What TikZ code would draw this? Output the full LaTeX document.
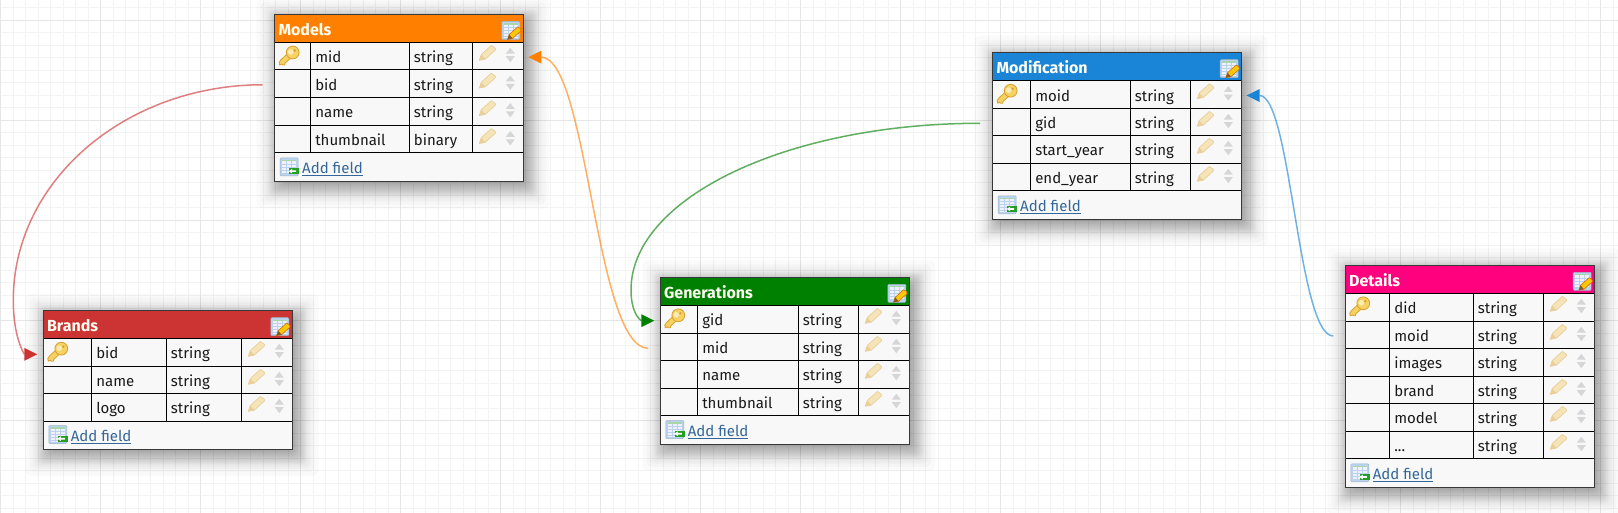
\documentclass[tikz,border=0pt]{standalone}
\usepackage{fontspec}
\setmainfont{Fira Sans}
\usetikzlibrary{shapes.geometric}
\definecolor{cRed}{HTML}{CC3333}
\definecolor{cOrange}{HTML}{FF8000}
\definecolor{cGreen}{HTML}{008000}
\definecolor{cBlue}{HTML}{1A85D6}
\definecolor{cPink}{HTML}{FF007F}
\definecolor{gridMinor}{HTML}{F3F3F3}
\definecolor{gridMajor}{HTML}{E6E6E6}
\definecolor{bodyFill}{HTML}{F8F8F8}
\definecolor{linkBlue}{HTML}{336699}
\definecolor{keyFill}{HTML}{F6D263}
\definecolor{keyLine}{HTML}{D9A02E}
\definecolor{penFill}{HTML}{F5E4B8}
\definecolor{penLine}{HTML}{EBCF9A}
\definecolor{sortGrey}{HTML}{D6D6D6}
\definecolor{iconBlue}{HTML}{B9D3EE}
\newcommand{\threedots}{...}
\tikzset{
  fieldtext/.style={anchor=base west,inner sep=0pt,font=\fontsize{15}{18}\selectfont,text=black!90},
  titletext/.style={anchor=base west,inner sep=0pt,font=\fontsize{16}{18}\selectfont\bfseries,text=white!95!yellow},
  linktext/.style={anchor=base west,inner sep=0pt,font=\fontsize{15}{18}\selectfont,text=linkBlue},
  areabox/.style={anchor=north west,inner sep=0pt,outer sep=0pt,minimum width={#1}},
  conn/.style={line width=1.5pt,opacity=.62},
  headtip/.style={isosceles triangle,isosceles triangle stretches,inner sep=0pt,outer sep=0pt,minimum width=13pt,minimum height=13pt,fill=#1},
  rule/.style={black,line width=1pt},
  frame/.style={draw=black!78,line width=1pt}
}
\newcommand{\keyicon}[2]{\begin{scope}[shift={(#1,#2)}]
  \filldraw[fill=keyFill,draw=keyLine,line width=.8pt,line join=round] (0,-4)--(4,0)--(-4,7)--(-4.5,9)--(-6.5,9)--(-7.5,8)--(-9.5,9)--(-10,6.5)--(-8.5,4)--cycle;
  \filldraw[fill=keyFill,draw=keyLine,line width=.8pt] (3.5,-3.5) circle (6.4);
  \fill[white!55!keyFill] (1.5,-4) circle (2.8);
  \fill[keyLine] (5.5,-5.5) circle (1.3);
\end{scope}}
\newcommand{\penshape}{(-8,7)--(-6,1.2)--(4,-7.8) to[out=-40,in=50] (8,-3.2)--(-2,5.8)--cycle}
\newcommand{\penicon}[2]{\begin{scope}[shift={(#1,#2)}]
  \filldraw[fill=penFill,draw=penLine,line width=.7pt,line join=round] \penshape;
  \fill[penLine] (-8,7)--(-6,1.2)--(-2,5.8)--cycle;
\end{scope}}
\newcommand{\sorticon}[2]{\begin{scope}[shift={(#1,#2)}]
  \fill[sortGrey] (-4.5,-1.2)--(4.5,-1.2)--(0,-7)--cycle;
  \fill[sortGrey] (-4.5,1.4)--(4.5,1.4)--(0,7.4)--cycle;
\end{scope}}
\newcommand{\sheet}{
  \filldraw[fill=iconBlue,draw=iconBlue!85!black,line width=.5pt,rounded corners=1pt] (-9,-9) rectangle (9,9);
  \fill[blue!6!white] (-7.2,-6) rectangle (7.2,7.2);
  \fill[green!35!gray!50] (-7.2,-7.2) rectangle (7.2,-5.8);
  \foreach \gy in {-3,0,3,6}{\draw[iconBlue,line width=.6pt] (-7.2,\gy)--(7.2,\gy);}
  \foreach \gx in {-3,2}{\draw[iconBlue,line width=.6pt] (\gx,-5.8)--(\gx,7.2);}
}
\newcommand{\editicon}[2]{\begin{scope}[shift={(#1,#2)}]
  \sheet
  \begin{scope}[shift={(3.5,3)},scale=.85]
    \filldraw[fill=yellow!60!orange,draw=orange!85!black,line width=.6pt] \penshape;
    \fill[brown!70!black] (-8,7)--(-6,1.2)--(-2,5.8)--cycle;
  \end{scope}
\end{scope}}
\newcommand{\addicon}[2]{\begin{scope}[shift={(#1,#2)}]
  \sheet
  \fill[green!55!black!85] (0,1.5) rectangle (10,7);
  \fill[white] (-0.5,4.2)--(3,1.8)--(3,3.4)--(7,3.4)--(7,5)--(3,5)--(3,6.6)--cycle;
\end{scope}}
% #1 id, #2 colour, #3 title, #4 x0/y0/x1/yh/yb/c1/c2/c3, #5 ytop/ybot/name/type rows
\newcommand{\dbtable}[5]{%
  \foreach \xa/\ya/\xb/\yh/\yb/\ca/\cb/\cc in {#4}{
    \foreach \r in {-8,-5,-3,-2,-1,0,1,2,3,4,5,6,7,8,9,10,11,13,15,18,22}{
      \fill[black,opacity=.021,rounded corners=6pt] (\xa+4-\r,\ya+5-\r) rectangle (\xb+4+\r,\yb+5+\r);
    }
    \node[areabox={(\xb-\xa)*1pt},minimum height={(\yb-\ya)*1pt},fill=bodyFill] (#1) at (\xa,\ya) {};
    \node[areabox={(\xb-\xa)*1pt},minimum height={(\yh-\ya)*1pt},fill=#2] (#1-head) at (\xa,\ya) {};
    \node[titletext] (#1-title) at (\xa+3.6,\ya+21) {#3};
    \editicon{\xb-12.5}{\ya+16}
    \foreach \ra/\rb/\rn/\rt [count=\i] in {#5}{
      \node[areabox={(\xb-\xa)*1pt},minimum height={(\rb-\ra)*1pt}] (#1-r\i) at (\xa,\ra) {};
      \node[fieldtext] (#1-name\i) at (\ca+4.8,\ra+20.4) {\rn};
      \node[fieldtext] (#1-type\i) at (\cb+4.4,\ra+20.4) {\rt};
      \draw[rule] (\xa,\rb)--(\xb,\rb);
      \penicon{\cc+15}{\ra+11}
      \sorticon{\cc+38}{\ra+12.5}
    }
    \keyicon{\xa+14.5}{\ya+41.5}
    \draw[rule] (\xa,\yh)--(\xb,\yh);
    \draw[rule] (\ca,\yh)--(\ca,\yb-28.5);
    \draw[rule] (\cb,\yh)--(\cb,\yb-28.5);
    \draw[rule] (\cc,\yh)--(\cc,\yb-28.5);
    \addicon{\xa+14.5}{\yb-14.5}
    \node[linktext] (#1-add) at (\xa+27.3,\yb-7.8) {\underline{Add field}};
    \draw[frame] (\xa,\ya) rectangle (\xb,\yb);
  }
}
\begin{document}
\begin{tikzpicture}[x=1pt,y=-1pt]
\useasboundingbox (0,0) rectangle (1618,513);
\fill[white] (0,0) rectangle (1618,513);
\foreach \i in {0,...,129}{\draw[gridMinor,line width=1pt] (12.5*\i+.5,0)--(12.5*\i+.5,513);}
\foreach \i in {0,...,41}{\draw[gridMinor,line width=1pt] (0,12.5*\i-4.5)--(1618,12.5*\i-4.5);}
\foreach \i in {0,...,16}{\draw[gridMajor,line width=1pt] (100*\i+.5,0)--(100*\i+.5,513);}
\foreach \i in {0,...,4}{\draw[gridMajor,line width=1pt] (0,100*\i+20.5)--(1618,100*\i+20.5);}

\dbtable{models}{cOrange}{Models}{274.7/14.5/523.3/42.3/181.5/310.3/409.3/472.3}{42.3/70/mid/string,70/97.5/bid/string,97.5/125.5/name/string,125.5/152.5/thumbnail/binary}
\dbtable{brands}{cRed}{Brands}{43.3/310.7/292.3/338.3/449/91.3/166.3/241.3}{338.3/366.3/bid/string,366.3/393.3/name/string,393.3/421.3/logo/string}
\dbtable{generations}{cGreen}{Generations}{660.3/277.3/909.3/305.3/444/697.3/798.3/858.3}{305.3/333.3/gid/string,333.3/360.3/mid/string,360.3/388.3/name/string,388.3/415.3/thumbnail/string}
\dbtable{modification}{cBlue}{Modification}{992.7/52.7/1241.7/80.7/219.3/1030.3/1130.3/1190.3}{80.7/108.3/moid/string,108.3/135.3/gid/string,135.3/163.3/start\_year/string,163.3/190.3/end\_year/string}
\dbtable{details}{cPink}{Details}{1345.3/265.3/1594.7/293.3/487.3/1389.3/1473.3/1543.3}{293.3/321.3/did/string,321.3/348.3/moid/string,348.3/376.3/images/string,376.3/403.3/brand/string,403.3/431.3/model/string,431.3/458.3/\threedots/string}

\node[headtip=cRed,anchor=apex] (tipBrands) at ([xshift=-6pt,yshift=-2pt]brands-r1.west) {};
\node[headtip=cGreen,anchor=apex] (tipGenerations) at ([xshift=-6pt,yshift=-1.4pt]generations-r1.west) {};
\node[headtip=cOrange,shape border rotate=180,anchor=apex] (tipModels) at ([xshift=5pt,yshift=-1pt]models-r1.east) {};
\node[headtip=cBlue,shape border rotate=180,anchor=apex] (tipModification) at ([xshift=5pt,yshift=-1pt]modification-r1.east) {};

\draw[conn,cRed] ([xshift=-12pt,yshift=-1pt]models-r2.west) .. controls (125,85) and (13.3,181) .. (13.3,300) .. controls (13.3,325) and (18,343) .. (tipBrands.lower side);
\draw[conn,cGreen] ([xshift=-12.7pt,yshift=-1.5pt]modification-r2.west) .. controls (787,123.3) and (631,198) .. (631,290) .. controls (631,305) and (635,316) .. (tipGenerations.lower side);
\draw[conn,cOrange] ([xshift=-12pt,yshift=-1.5pt]generations-r2.west) .. controls (595,348) and (588,58) .. (tipModels.lower side);
\draw[conn,cBlue] ([xshift=-12pt,yshift=-1.2pt]details-r2.west) .. controls (1298,336) and (1291,96) .. (tipModification.lower side);
\end{tikzpicture}
\end{document}
